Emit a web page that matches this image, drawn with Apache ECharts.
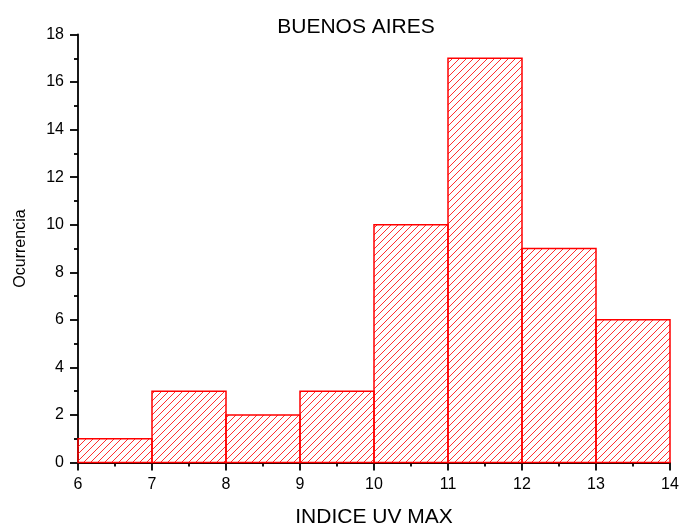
<!DOCTYPE html>
<html><head><meta charset="utf-8">
<script src="https://cdn.jsdelivr.net/npm/echarts@6/dist/echarts.min.js"></script>
<style>html,body{margin:0;padding:0;background:#fff}#c{width:681px;height:529px}</style>
</head><body><div id="c"></div>
<script>
const binStarts = [6, 7, 8, 9, 10, 11, 12, 13];
const binWidth = 1;
const counts = [1, 3, 2, 3, 10, 17, 9, 6];
const xTicks = [6, 7, 8, 9, 10, 11, 12, 13, 14];
const yTicks = [0, 2, 4, 6, 8, 10, 12, 14, 16, 18];

const HATCH = 7;
const data = binStarts.map((s, i) => [s, s + binWidth, counts[i]]);
const font = 'Arial, "Liberation Sans", sans-serif';
const axisStyle = { color: '#000', width: 1.8 };
const chart = echarts.init(document.getElementById('c'));
chart.setOption({
  animation: false,
  title: { text: 'BUENOS AIRES', left: 351, top: 12, textAlign: 'center',
    textStyle: { fontFamily: font, fontSize: 21, fontWeight: 'normal', color: '#000' } },
  grid: { left: 78, right: 11, top: 34.5, bottom: 66.5, containLabel: false, outerBoundsMode: 'none' },
  xAxis: {
    type: 'value', min: xTicks[0], max: xTicks[xTicks.length - 1], interval: 1,
    name: 'INDICE UV MAX', nameLocation: 'middle', nameGap: 44,
    nameTextStyle: { fontFamily: font, fontSize: 21, color: '#000' },
    axisLine: { show: true, onZero: false, lineStyle: axisStyle },
    axisTick: { show: true, inside: false, length: 8, lineStyle: axisStyle },
    minorTick: { show: true, splitNumber: 2, length: 4, lineStyle: axisStyle },
    axisLabel: { fontFamily: font, fontSize: 16, color: '#000', margin: 14 },
    splitLine: { show: false }
  },
  yAxis: {
    type: 'value', min: yTicks[0], max: yTicks[yTicks.length - 1], interval: 2,
    name: 'Ocurrencia', nameLocation: 'middle', nameGap: 49, nameRotate: 90,
    nameTextStyle: { fontFamily: font, fontSize: 16, color: '#000' },
    axisLine: { show: true, lineStyle: axisStyle },
    axisTick: { show: true, inside: false, length: 8, lineStyle: axisStyle },
    minorTick: { show: true, splitNumber: 2, length: 4, lineStyle: axisStyle },
    axisLabel: { fontFamily: font, fontSize: 16, color: '#000', margin: 14 },
    splitLine: { show: false }
  },
  series: [{
    type: 'custom',
    data: data,
    encode: { x: [0, 1], y: 2 },
    z: 1,
    renderItem: function (params, api) {
      const p0 = api.coord([api.value(0), 0]);
      const p1 = api.coord([api.value(1), api.value(2)]);
      const x0 = p0[0], x1 = p1[0], yTop = p1[1], yBot = p0[1];
      const children = [];
      const cStart = Math.floor((x0 + yTop) / HATCH) * HATCH;
      for (let c = cStart; c <= x1 + yBot; c += HATCH) {
        const lo = Math.max(x0, c - yBot);
        const hi = Math.min(x1, c - yTop);
        if (hi - lo > 0.2) {
          children.push({ type: 'line', shape: { x1: lo, y1: c - lo, x2: hi, y2: c - hi },
            style: { stroke: '#ff3030', lineWidth: 1 } });
        }
      }
      children.push({ type: 'rect',
        shape: { x: x0, y: yTop, width: x1 - x0, height: yBot - yTop },
        style: { fill: null, stroke: '#ff0000', lineWidth: 1.5 } });
      return { type: 'group', children: children };
    }
  }]
});
</script></body></html>
